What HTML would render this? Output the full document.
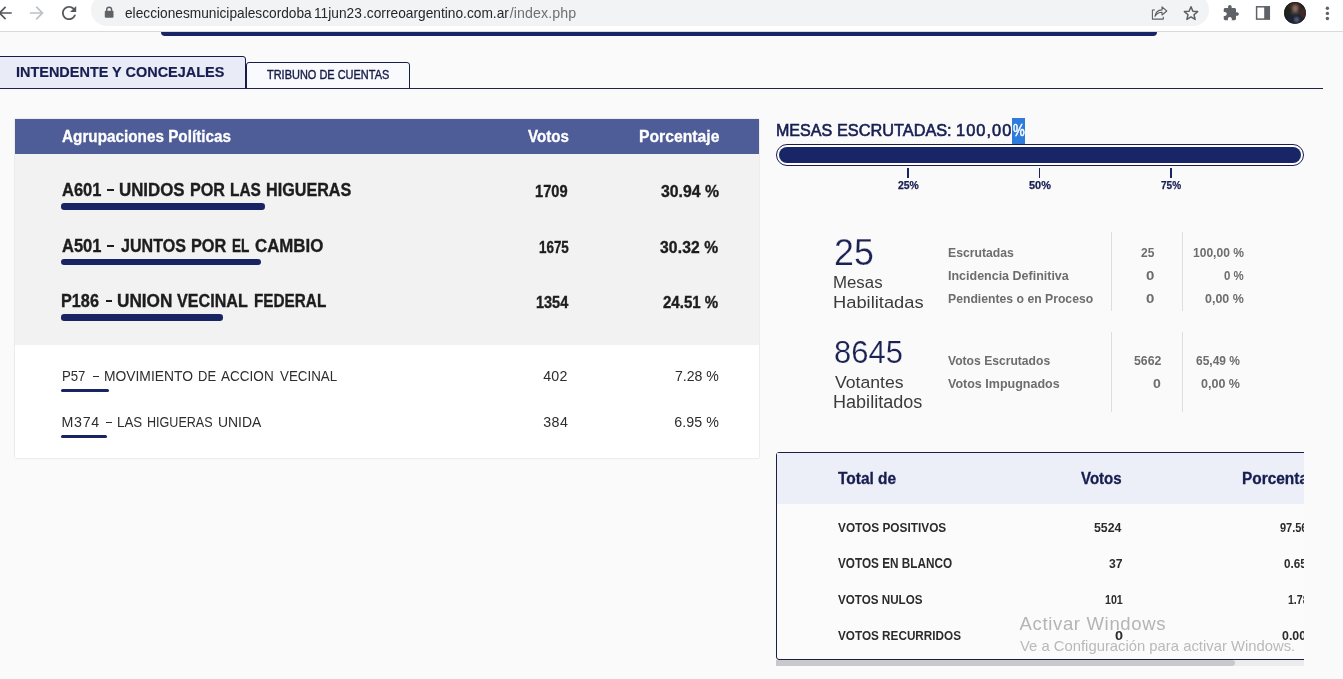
<!DOCTYPE html>
<html><head><meta charset="utf-8">
<style>
*{box-sizing:border-box;margin:0;padding:0}
html,body{width:1343px;height:679px;overflow:hidden;background:#fafafa;font-family:"Liberation Sans",sans-serif;--bg:#fafafa}
body{position:relative}
.a{position:absolute}
.t{position:absolute;white-space:nowrap;line-height:1;transform-origin:0 0}
svg{position:absolute;overflow:visible}
/* chrome */
#chrome{left:0;top:0;width:1343px;height:31.5px;background:#fff;border-bottom:1px solid #dadada}
#pill{left:91px;top:-6px;width:1118px;height:32.3px;border-radius:16px;background:#f1f3f4}
/* page */
#topline{left:160.7px;top:32px;width:996.5px;height:3.8px;background:#182463;border-radius:0 0 4px 4px}
#tab1{left:-3px;top:56px;width:249.3px;height:33px;background:#e9ecf6;border:1.4px solid #171c48;border-radius:3px 3px 0 0;}
#tab2{left:246px;top:62px;width:163.8px;height:27px;background:#f9fafd;border:1.4px solid #171c48;border-radius:3px 3px 0 0;}
#tabline{left:0;top:87.6px;width:1323.4px;height:1.1px;background:#1f2348}
/* left table */
#lt{left:15px;top:119px;width:744px;height:339px;background:#fff;box-shadow:0 0 1.5px rgba(0,0,0,.22)}
#lth{left:0;top:0;width:744px;height:34.8px;background:#4e5c98}
#ltg{left:0;top:34.8px;width:744px;height:191.5px;background:#f2f2f2}
.bar{position:absolute;height:6.3px;border-radius:3.2px;background:#182463}
.bar2{position:absolute;height:3px;border-radius:1.5px;background:#182463}
/* right */
#hl{left:1012px;top:118px;width:12.8px;height:26px;background:#2f7bdb}
#pbar{left:776px;top:143.9px;width:528px;height:22px;border:1.4px solid #1a1e45;border-radius:11px;background:#fdfdff}
#pfill{left:779px;top:147px;width:522px;height:15.7px;border-radius:8px;background:#182566}
  .tick{position:absolute;top:167.5px;width:1.8px;height:10px;background:#182463}
.vd{position:absolute;width:1px;background:#dedede}
#rt{left:776px;top:451.8px;width:527.8px;height:208px;overflow:hidden}
#rtb{left:0;top:0;width:560px;height:207.8px;border:1.4px solid #1b1f46;border-radius:3px;background:#fbfbfc}
#rth{left:1.4px;top:1.4px;width:560px;height:50.6px;background:#eceef8}
#rti{left:-776px;top:-451.8px;width:1343px;height:679px}
#sbt{left:776px;top:660px;width:527.8px;height:5.6px;background:#ececec}
#sbh{left:776px;top:660px;width:458.5px;height:5.6px;background:#c9c9cb;border-radius:0 3px 3px 0}
</style></head><body><div id="root" class="a" style="left:0;top:0;width:1343px;height:679px;will-change:transform">
<div id="chrome" class="a"></div>
<div id="pill" class="a"></div>
<svg class="a" style="left:0;top:0" width="1343" height="31" viewBox="0 0 1343 31">
 <g fill="#54575b">
  <path transform="translate(-5.1,2.9) scale(0.842)" d="M20 11H7.83l5.59-5.59L12 4l-8 8 8 8 1.41-1.41L7.83 13H20v-2z"/>
  <path transform="translate(58.45,2.35) scale(0.8875)" d="M17.65 6.35C16.2 4.9 14.21 4 12 4c-4.42 0-7.99 3.58-7.99 8s3.57 8 7.99 8c3.73 0 6.84-2.55 7.73-6h-2.08c-.82 2.33-3.04 4-5.65 4-3.31 0-6-2.69-6-6s2.69-6 6-6c1.66 0 3.14.69 4.22 1.78L13 11h7V4l-2.35 2.35z"/>
 </g>
 <path fill="#bfc2c6" transform="translate(26.5,2.68) scale(0.86)" d="M12 4l-1.41 1.41L16.17 11H4v2h12.17l-5.58 5.59L12 20l8-8z"/>
 <!-- lock -->
 <rect x="104.8" y="10.8" width="8.7" height="6.9" rx="1" fill="#5f6368"/>
 <path d="M106.7 11 V9.7 a2.45 2.45 0 0 1 4.9 0 V11" fill="none" stroke="#5f6368" stroke-width="1.4"/>
 <!-- share -->
 <g fill="none" stroke="#5c5f63" stroke-width="1.1" stroke-linejoin="round">
  <path d="M1155 10 H1152.4 V19.1 H1163.3 V16.8"/>
  <path d="M1155 16.3 C1155.4 12.6 1158 10.2 1162 9.9 V6.9 L1166.8 11 L1162 15 V12.2 C1159 12.2 1156.6 13.6 1155 16.3 Z"/>
 </g>
 <!-- star -->
 <path transform="translate(1191,13.4)" fill="none" stroke="#5c5f63" stroke-width="1.5" stroke-linejoin="round" d="M0 -6.6 L1.9 -2.2 L6.6 -1.8 L3 1.3 L4.1 6 L0 3.5 L-4.1 6 L-3 1.3 L-6.6 -1.8 L-1.9 -2.2 Z"/>
 <!-- puzzle -->
 <path transform="translate(1222.3,4.3) scale(0.72)" fill="#5f6368" d="M20.5 11H19V7c0-1.1-.9-2-2-2h-4V3.5C13 2.12 11.880 1 10.500 1S8 2.120 8 3.500V5H4c-1.100 0-1.990.9-1.990 2v3.800H3.500c1.490 0 2.700 1.210 2.700 2.700s-1.210 2.700-2.700 2.700H2V20c0 1.100.9 2 2 2h3.800v-1.500c0-1.490 1.210-2.700 2.700-2.700 1.490 0 2.700 1.210 2.700 2.700V22H17c1.100 0 2-.9 2-2v-4h1.500c1.380 0 2.500-1.120 2.500-2.500S21.880 11 20.500 11z"/>
 <!-- side panel -->
 <rect x="1256.6" y="6.8" width="12.7" height="12.3" fill="none" stroke="#5f6368" stroke-width="1.5"/>
 <rect x="1264.2" y="6.8" width="5.1" height="12.3" fill="#5f6368"/>
 <!-- avatar -->
 <defs><clipPath id="avc"><circle cx="1295" cy="12.9" r="10.9"/></clipPath><filter id="avb" x="-20%" y="-20%" width="140%" height="140%"><feGaussianBlur stdDeviation="0.9"/></filter></defs>
 <circle cx="1295" cy="12.9" r="10.9" fill="#1e1a1c"/>
 <g clip-path="url(#avc)"><g filter="url(#avb)">
  <rect x="1283" y="1" width="24" height="24" fill="#1e1a1c"/>
  <ellipse cx="1295" cy="7.5" rx="6.5" ry="5.5" fill="#3a2a22"/>
  <ellipse cx="1303" cy="13" rx="3" ry="5" fill="#43262b"/>
  <ellipse cx="1287.5" cy="12" rx="3" ry="5" fill="#1b201e"/>
  <ellipse cx="1295" cy="20.5" rx="8.5" ry="6" fill="#1d2238"/>
  <ellipse cx="1295.2" cy="8.6" rx="2.7" ry="3.5" fill="#8a6a60"/>
  <ellipse cx="1296.6" cy="19.5" rx="2.2" ry="2.6" fill="#5a6072"/>
  <ellipse cx="1295" cy="13.2" rx="5" ry="1.1" fill="#3c4642"/>
 </g></g>
 <!-- dots -->
 <g fill="#5f6368"><circle cx="1327.4" cy="8.2" r="1.7"/><circle cx="1327.4" cy="13.4" r="1.7"/><circle cx="1327.4" cy="18.5" r="1.7"/></g>
</svg>
<div id="topline" class="a"></div>
<div id="tab1" class="a"></div>
<div id="tab2" class="a"></div>
<div id="tabline" class="a"></div>

<div id="lt" class="a">
 <div id="lth" class="a"></div>
 <div id="ltg" class="a"></div>
</div>
<div class="bar" style="left:61.25px;top:203.25px;width:203.25px"></div>
<div class="bar" style="left:61.25px;top:258.75px;width:199.25px"></div>
<div class="bar" style="left:61.25px;top:314.25px;width:161.25px"></div>
<div class="bar2" style="left:61px;top:389px;width:47.7px"></div>
<div class="bar2" style="left:61px;top:434.8px;width:45.6px"></div>

<div id="hl" class="a"></div>
<div id="pbar" class="a"></div>
<div id="pfill" class="a"></div>
<div class="tick" style="left:907.3px"></div>
<div class="tick" style="left:1038.6px"></div>
<div class="tick" style="left:1170.3px"></div>
<div class="vd" style="left:1110.8px;top:232px;height:79.3px"></div>
<div class="vd" style="left:1181.5px;top:232px;height:79.3px"></div>
<div class="vd" style="left:1110.8px;top:332px;height:79.8px"></div>
<div class="vd" style="left:1181.5px;top:332px;height:79.8px"></div>

<div id="rt" class="a">
 <div id="rtb" class="a"></div>
 <div id="rth" class="a"></div>
 <div class="a" style="left:-1px;top:-1.2px;width:10px;height:10px"><div class="t" style="left:62.50px;top:20.15px;font-size:16.00px;transform:scaleX(0.9668);color:#171d50;font-weight:bold;-webkit-text-stroke:0.3px #171d50">Total de</div>
<div class="t" style="left:306.25px;top:20.15px;font-size:16.00px;transform:scaleX(0.9398);color:#171d50;font-weight:bold;-webkit-text-stroke:0.3px #171d50">Votos</div>
<div class="t" style="left:466.54px;top:20.15px;font-size:16.00px;transform:scaleX(0.9640);color:#171d50;font-weight:bold;-webkit-text-stroke:0.3px #171d50">Porcentaje</div>
<div class="t" style="left:62.50px;top:70.65px;font-size:13.51px;transform:scaleX(0.8763);color:#2b2b2b;font-weight:bold">VOTOS POSITIVOS</div>
<div class="t" style="left:62.50px;top:106.65px;font-size:13.87px;transform:scaleX(0.8481);color:#2b2b2b;font-weight:bold">VOTOS EN BLANCO</div>
<div class="t" style="left:62.50px;top:142.40px;font-size:13.51px;transform:scaleX(0.8622);color:#2b2b2b;font-weight:bold">VOTOS NULOS</div>
<div class="t" style="left:62.50px;top:178.40px;font-size:13.51px;transform:scaleX(0.8692);color:#2b2b2b;font-weight:bold">VOTOS RECURRIDOS</div>
<div class="t" style="left:319.00px;top:70.65px;font-size:13.16px;transform:scaleX(0.9357);color:#2b2b2b;font-weight:bold">5524</div>
<div class="t" style="left:333.75px;top:106.65px;font-size:13.16px;transform:scaleX(0.9260);color:#2b2b2b;font-weight:bold">37</div>
<div class="t" style="left:329.50px;top:142.40px;font-size:13.16px;transform:scaleX(0.8096);color:#2b2b2b;font-weight:bold">101</div>
<div class="t" style="left:339.50px;top:178.40px;font-size:13.51px;transform:scaleX(1.0714);color:#2b2b2b;font-weight:bold">0</div>
<div class="t" style="left:505.00px;top:70.65px;font-size:13.16px;transform:scaleX(0.8345);color:#2b2b2b;font-weight:bold">97.56 %</div>
<div class="t" style="left:509.00px;top:106.65px;font-size:13.16px;transform:scaleX(0.8854);color:#2b2b2b;font-weight:bold">0.65 %</div>
<div class="t" style="left:512.50px;top:142.40px;font-size:13.16px;transform:scaleX(0.8005);color:#2b2b2b;font-weight:bold">1.78 %</div>
<div class="t" style="left:507.00px;top:178.40px;font-size:13.51px;transform:scaleX(0.9161);color:#2b2b2b;font-weight:bold">0.00 %</div></div>
</div>
<div id="sbt" class="a"></div>
<div id="sbh" class="a"></div>

<div class="a" style="left:107.1px;top:188.9px;width:7.00px;height:2.2px;background:#1d1d1d"></div>
<div class="a" style="left:107.1px;top:245.1px;width:7.00px;height:2.2px;background:#1d1d1d"></div>
<div class="a" style="left:105.7px;top:299.8px;width:6.60px;height:2.2px;background:#1d1d1d"></div>
<div class="a" style="left:92.8px;top:376.3px;width:6.50px;height:1.1px;background:#2d2d2d"></div>
<div class="a" style="left:106.4px;top:422.4px;width:5.80px;height:1.1px;background:#2d2d2d"></div>
<div class="t" style="left:125.40px;top:5.70px;font-size:14.20px;transform:scaleX(0.9662);color:#25282b">eleccionesmunicipalescordoba</div>
<div class="t" style="left:313.63px;top:5.70px;font-size:14.20px;transform:scaleX(0.9660);color:#25282b">11jun23</div>
<div class="t" style="left:362.73px;top:5.70px;font-size:14.20px;transform:scaleX(0.9687);color:#25282b">.correoargentino.com.ar</div>
<div class="t" style="left:509.80px;top:5.70px;font-size:14.20px;letter-spacing:0.091px;color:#6d7073">/index.php</div>
<div class="t" style="left:16.04px;top:64.00px;font-size:15.08px;transform:scaleX(0.9587);color:#171d50;font-weight:bold;-webkit-text-stroke:0.2px #171d50">INTENDENTE Y CONCEJALES</div>
<div class="t" style="left:267.00px;top:69.10px;font-size:12.09px;transform:scaleX(0.9082);color:#161b46;-webkit-text-stroke:0.38px #161b46">TRIBUNO DE CUENTAS</div>
<div class="t" style="left:62.00px;top:129.00px;font-size:16.64px;transform:scaleX(0.9194);color:#fff;font-weight:bold;-webkit-text-stroke:0.3px #fff">Agrupaciones Políticas</div>
<div class="t" style="left:527.50px;top:128.00px;font-size:16.36px;transform:scaleX(0.9241);color:#fff;font-weight:bold;-webkit-text-stroke:0.3px #fff">Votos</div>
<div class="t" style="left:638.54px;top:128.00px;font-size:16.36px;transform:scaleX(0.9608);color:#fff;font-weight:bold;-webkit-text-stroke:0.3px #fff">Porcentaje</div>
<div class="t" style="left:61.70px;top:181.75px;font-size:17.78px;transform:scaleX(0.9274);color:#1d1d1d;font-weight:bold;-webkit-text-stroke:0.35px #1d1d1d">A601</div>
<div class="t" style="left:119.15px;top:181.75px;font-size:17.78px;transform:scaleX(0.9495);color:#1d1d1d;font-weight:bold;-webkit-text-stroke:0.35px #1d1d1d">UNIDOS</div>
<div class="t" style="left:189.89px;top:181.75px;font-size:17.78px;transform:scaleX(0.9079);color:#1d1d1d;font-weight:bold;-webkit-text-stroke:0.35px #1d1d1d">POR</div>
<div class="t" style="left:230.23px;top:181.75px;font-size:17.78px;transform:scaleX(0.8679);color:#1d1d1d;font-weight:bold;-webkit-text-stroke:0.35px #1d1d1d">LAS</div>
<div class="t" style="left:265.89px;top:181.75px;font-size:17.78px;transform:scaleX(0.9094);color:#1d1d1d;font-weight:bold;-webkit-text-stroke:0.35px #1d1d1d">HIGUERAS</div>
<div class="t" style="left:535.33px;top:184.00px;font-size:16.00px;transform:scaleX(0.9151);color:#1d1d1d;font-weight:bold;-webkit-text-stroke:0.35px #1d1d1d">1709</div>
<div class="t" style="left:660.50px;top:184.00px;font-size:16.00px;transform:scaleX(0.9874);color:#1d1d1d;font-weight:bold;-webkit-text-stroke:0.35px #1d1d1d">30.94 %</div>
<div class="t" style="left:61.70px;top:238.00px;font-size:17.78px;transform:scaleX(0.9274);color:#1d1d1d;font-weight:bold;-webkit-text-stroke:0.35px #1d1d1d">A501</div>
<div class="t" style="left:121.00px;top:238.00px;font-size:17.78px;transform:scaleX(0.9042);color:#1d1d1d;font-weight:bold;-webkit-text-stroke:0.35px #1d1d1d">JUNTOS</div>
<div class="t" style="left:191.08px;top:238.00px;font-size:17.78px;transform:scaleX(0.9159);color:#1d1d1d;font-weight:bold;-webkit-text-stroke:0.35px #1d1d1d">POR</div>
<div class="t" style="left:231.83px;top:238.00px;font-size:17.78px;transform:scaleX(0.7689);color:#1d1d1d;font-weight:bold;-webkit-text-stroke:0.35px #1d1d1d">EL</div>
<div class="t" style="left:255.20px;top:238.00px;font-size:17.78px;transform:scaleX(0.9484);color:#1d1d1d;font-weight:bold;-webkit-text-stroke:0.35px #1d1d1d">CAMBIO</div>
<div class="t" style="left:538.75px;top:240.00px;font-size:15.65px;transform:scaleX(0.8554);color:#1d1d1d;font-weight:bold;-webkit-text-stroke:0.35px #1d1d1d">1675</div>
<div class="t" style="left:660.00px;top:240.00px;font-size:15.65px;letter-spacing:0.135px;color:#1d1d1d;font-weight:bold;-webkit-text-stroke:0.35px #1d1d1d">30.32 %</div>
<div class="t" style="left:61.39px;top:292.75px;font-size:17.78px;transform:scaleX(0.9136);color:#1d1d1d;font-weight:bold;-webkit-text-stroke:0.35px #1d1d1d">P186</div>
<div class="t" style="left:117.23px;top:292.75px;font-size:17.78px;transform:scaleX(0.9673);color:#1d1d1d;font-weight:bold;-webkit-text-stroke:0.35px #1d1d1d">UNION</div>
<div class="t" style="left:177.00px;top:292.75px;font-size:17.78px;transform:scaleX(0.9075);color:#1d1d1d;font-weight:bold;-webkit-text-stroke:0.35px #1d1d1d">VECINAL</div>
<div class="t" style="left:253.64px;top:292.75px;font-size:17.78px;transform:scaleX(0.8610);color:#1d1d1d;font-weight:bold;-webkit-text-stroke:0.35px #1d1d1d">FEDERAL</div>
<div class="t" style="left:536.25px;top:295.00px;font-size:15.65px;transform:scaleX(0.9267);color:#1d1d1d;font-weight:bold;-webkit-text-stroke:0.35px #1d1d1d">1354</div>
<div class="t" style="left:663.00px;top:295.00px;font-size:15.65px;transform:scaleX(0.9618);color:#1d1d1d;font-weight:bold;-webkit-text-stroke:0.35px #1d1d1d">24.51 %</div>
<div class="t" style="left:61.67px;top:368.90px;font-size:14.22px;transform:scaleX(0.9265);color:#2d2d2d">P57</div>
<div class="t" style="left:103.73px;top:368.90px;font-size:14.22px;transform:scaleX(0.9733);color:#2d2d2d">MOVIMIENTO</div>
<div class="t" style="left:198.29px;top:368.90px;font-size:14.22px;transform:scaleX(0.9142);color:#2d2d2d">DE</div>
<div class="t" style="left:221.30px;top:368.90px;font-size:14.22px;transform:scaleX(0.9522);color:#2d2d2d">ACCION</div>
<div class="t" style="left:279.60px;top:368.90px;font-size:14.22px;transform:scaleX(0.9387);color:#2d2d2d">VECINAL</div>
<div class="t" style="left:543.25px;top:368.75px;font-size:14.22px;letter-spacing:0.217px;color:#2d2d2d">402</div>
<div class="t" style="left:675.00px;top:368.75px;font-size:14.22px;transform:scaleX(0.9916);color:#2d2d2d">7.28 %</div>
<div class="t" style="left:61.60px;top:415.00px;font-size:14.22px;letter-spacing:0.680px;color:#2d2d2d">M374</div>
<div class="t" style="left:116.66px;top:415.00px;font-size:14.22px;transform:scaleX(0.9373);color:#2d2d2d">LAS</div>
<div class="t" style="left:147.02px;top:415.00px;font-size:14.22px;transform:scaleX(0.8835);color:#2d2d2d">HIGUERAS</div>
<div class="t" style="left:218.12px;top:415.00px;font-size:14.22px;transform:scaleX(0.9782);color:#2d2d2d">UNIDA</div>
<div class="t" style="left:543.25px;top:415.00px;font-size:14.22px;letter-spacing:0.467px;color:#2d2d2d">384</div>
<div class="t" style="left:674.25px;top:415.00px;font-size:14.22px;letter-spacing:0.075px;color:#2d2d2d">6.95 %</div>
<div class="t" style="left:775.77px;top:121.75px;font-size:16.36px;transform:scaleX(0.9810);color:#161e52;-webkit-text-stroke:0.6px #161e52">MESAS</div>
<div class="t" style="left:836.50px;top:121.75px;font-size:16.36px;transform:scaleX(0.9957);color:#161e52;-webkit-text-stroke:0.6px #161e52">ESCRUTADAS:</div>
<div class="t" style="left:956.00px;top:121.75px;font-size:16.36px;letter-spacing:1.070px;color:#161e52;-webkit-text-stroke:0.6px #161e52">100,00</div>
<div class="t" style="left:1012.50px;top:121.75px;font-size:16.36px;transform:scaleX(0.8071);color:#fff;-webkit-text-stroke:0.5px #fff">%</div>
<div class="t" style="left:898.00px;top:179.75px;font-size:11.38px;transform:scaleX(0.9167);color:#161e52;font-weight:bold;-webkit-text-stroke:0.25px #161e52">25%</div>
<div class="t" style="left:1028.75px;top:179.75px;font-size:11.38px;transform:scaleX(0.9609);color:#161e52;font-weight:bold;-webkit-text-stroke:0.25px #161e52">50%</div>
<div class="t" style="left:1160.75px;top:179.75px;font-size:11.38px;transform:scaleX(0.8836);color:#161e52;font-weight:bold;-webkit-text-stroke:0.25px #161e52">75%</div>
<div class="t" style="left:834.02px;top:234.50px;font-size:36.63px;transform:scaleX(0.9776);color:#1b2355;-webkit-text-stroke:0.25px var(--bg)">25</div>
<div class="t" style="left:833.45px;top:274.50px;font-size:16.00px;transform:scaleX(1.0515);color:#3b3b3b">Mesas</div>
<div class="t" style="left:833.40px;top:294.50px;font-size:16.71px;transform:scaleX(1.0980);color:#3b3b3b">Habilitadas</div>
<div class="t" style="left:947.50px;top:247.00px;font-size:12.80px;transform:scaleX(0.9546);color:#6d6d6d;font-weight:bold">Escrutadas</div>
<div class="t" style="left:947.50px;top:269.00px;font-size:13.16px;transform:scaleX(0.9491);color:#6d6d6d;font-weight:bold">Incidencia Definitiva</div>
<div class="t" style="left:947.50px;top:292.00px;font-size:13.16px;transform:scaleX(0.9280);color:#6d6d6d;font-weight:bold">Pendientes o en Proceso</div>
<div class="t" style="left:1140.75px;top:247.00px;font-size:12.80px;transform:scaleX(0.9386);color:#6d6d6d;font-weight:bold">25</div>
<div class="t" style="left:1192.50px;top:247.00px;font-size:12.80px;transform:scaleX(0.9416);color:#6d6d6d;font-weight:bold">100,00 %</div>
<div class="t" style="left:1145.75px;top:269.00px;font-size:13.16px;transform:scaleX(1.1429);color:#6d6d6d;font-weight:bold">0</div>
<div class="t" style="left:1224.00px;top:269.00px;font-size:13.16px;transform:scaleX(0.8711);color:#6d6d6d;font-weight:bold">0 %</div>
<div class="t" style="left:1145.75px;top:292.00px;font-size:13.16px;transform:scaleX(1.1429);color:#6d6d6d;font-weight:bold">0</div>
<div class="t" style="left:1205.00px;top:292.00px;font-size:13.16px;transform:scaleX(0.9460);color:#6d6d6d;font-weight:bold">0,00 %</div>
<div class="t" style="left:834.00px;top:338.00px;font-size:30.94px;letter-spacing:0.053px;color:#1b2355;-webkit-text-stroke:0.2px var(--bg)">8645</div>
<div class="t" style="left:834.50px;top:374.00px;font-size:17.07px;transform:scaleX(1.0331);color:#3b3b3b">Votantes</div>
<div class="t" style="left:833.46px;top:394.00px;font-size:17.43px;transform:scaleX(1.0362);color:#3b3b3b">Habilitados</div>
<div class="t" style="left:947.50px;top:354.00px;font-size:13.16px;transform:scaleX(0.9213);color:#6d6d6d;font-weight:bold">Votos Escrutados</div>
<div class="t" style="left:947.50px;top:377.00px;font-size:13.16px;transform:scaleX(0.9510);color:#6d6d6d;font-weight:bold">Votos Impugnados</div>
<div class="t" style="left:1133.75px;top:354.00px;font-size:13.16px;transform:scaleX(0.9335);color:#6d6d6d;font-weight:bold">5662</div>
<div class="t" style="left:1195.75px;top:354.00px;font-size:13.16px;transform:scaleX(0.9117);color:#6d6d6d;font-weight:bold">65,49 %</div>
<div class="t" style="left:1153.25px;top:377.00px;font-size:13.16px;transform:scaleX(1.0714);color:#6d6d6d;font-weight:bold">0</div>
<div class="t" style="left:1200.75px;top:377.00px;font-size:13.16px;transform:scaleX(0.9521);color:#6d6d6d;font-weight:bold">0,00 %</div>
<div class="t" style="left:1019.50px;top:614.50px;font-size:18.49px;letter-spacing:0.670px;color:rgba(110,110,110,.5)">Activar Windows</div>
<div class="t" style="left:1019.50px;top:638.75px;font-size:14.94px;transform:scaleX(0.9923);color:rgba(110,110,110,.47)">Ve a Configuración para activar Windows.</div>
</div></body></html>
